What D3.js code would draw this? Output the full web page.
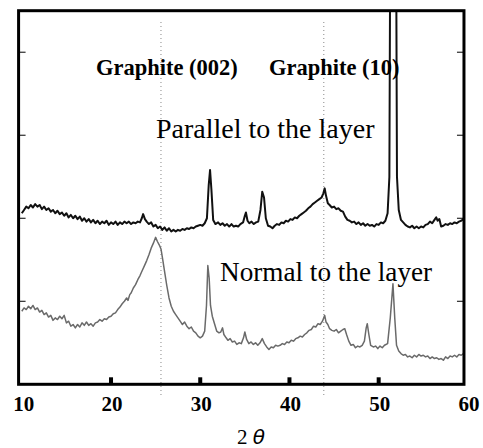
<!DOCTYPE html>
<html><head><meta charset="utf-8">
<script src="https://cdn.jsdelivr.net/npm/d3@7"></script>
<style>html,body{margin:0;padding:0;background:#fff;}svg{display:block;}</style>
</head><body>
<svg id="chart" width="483" height="448"></svg>
<script>
// ---- DATA (2θ in degrees, intensity in arbitrary units) ----
const xTicks = [10, 20, 30, 40, 50, 60];
const yTicks = [100, 200, 300, 400];
const markerAngles = [25.6, 43.85];
const peakLabels = ["Graphite (002)", "Graphite (10)"];
const seriesNames = ["Parallel to the layer", "Normal to the layer"];

const parallel = [
[10.0,206],[10.25,210],[10.5,214],[10.75,212],[11.0,216],[11.25,213],[11.5,217],[11.75,214],[12.0,216],[12.25,211],
[12.5,214],[12.75,210],[13.0,212],[13.25,208],[13.5,210],[13.75,206],[14.0,209],[14.25,205],[14.5,207],[14.75,203],
[15.0,206],[15.25,201],[15.5,204],[15.75,200],[16.0,203],[16.25,199],[16.5,202],[16.75,197],[17.0,200],[17.25,196],
[17.5,199],[17.75,195],[18.0,198],[18.25,194],[18.5,197],[18.75,193],[19.0,196],[19.25,194],[19.5,197],[19.75,192],
[20.0,195],[20.25,193],[20.5,196],[20.75,192],[21.0,195],[21.25,193],[21.5,196],[21.75,194],[22.0,196],[22.25,193],
[22.5,195],[22.75,194],[23.0,196],[23.25,195],[23.45,200],[23.6,205],[23.8,199],[24.0,196],[24.25,193],[24.5,195],
[24.75,190],[25.0,192],[25.25,188],[25.5,190],[25.75,186],[26.0,189],[26.25,185],[26.5,188],[26.75,184],[27.0,186],
[27.25,184],[27.5,186],[27.75,185],[28.0,187],[28.25,186],[28.5,188],[28.75,187],[29.0,189],[29.25,188],[29.5,190],
[29.75,191],[30.0,192],[30.25,191],[30.5,194],[30.75,200],[30.95,240],[31.1,258],[31.25,235],[31.45,198],[31.7,193],
[32.0,195],[32.25,192],[32.5,194],[32.75,191],[33.0,193],[33.25,190],[33.5,193],[33.75,190],[34.0,191],[34.25,190],
[34.5,193],[34.8,195],[35.0,203],[35.12,207],[35.3,197],[35.5,194],[35.75,196],[36.0,193],[36.25,195],[36.5,196],
[36.75,210],[36.95,232],[37.15,225],[37.35,200],[37.6,191],[37.85,190],[38.1,188],[38.35,191],[38.6,193],[38.85,192],
[39.1,195],[39.35,194],[39.6,197],[39.85,196],[40.1,199],[40.35,198],[40.6,201],[40.85,200],[41.1,203],[41.35,205],
[41.6,207],[41.85,209],[42.1,212],[42.35,214],[42.6,217],[42.85,219],[43.1,221],[43.35,223],[43.6,225],[43.8,230],
[43.95,236],[44.1,227],[44.3,218],[44.5,216],[44.75,213],[45.0,214],[45.25,211],[45.5,212],[45.75,209],[46.0,208],
[46.25,202],[46.5,198],[46.75,197],[47.0,195],[47.25,196],[47.5,193],[47.75,195],[48.0,192],[48.25,194],[48.5,191],
[48.75,193],[49.0,191],[49.25,192],[49.5,190],[49.75,193],[50.0,192],[50.25,195],[50.5,194],[50.75,197],[51.0,206],
[51.2,250],[51.35,700],[51.55,1000],[51.75,1000],[51.9,700],[52.05,250],[52.25,210],[52.5,198],[52.75,195],[53.0,192],
[53.25,190],[53.5,189],[53.75,191],[54.0,188],[54.25,190],[54.5,188],[54.75,190],[55.0,189],[55.25,192],[55.5,193],
[55.75,196],[56.0,194],[56.25,198],[56.45,201],[56.6,197],[56.8,199],[57.0,190],[57.25,191],[57.5,193],[57.75,192],
[58.0,194],[58.25,193],[58.5,195],[58.75,194],[59.0,196],[59.25,197],[59.5,199]
];

const normal = [
[10.0,88],[10.25,92],[10.5,90],[10.75,94],[11.0,91],[11.25,95],[11.5,90],[11.75,92],[12.0,87],[12.25,89],
[12.5,84],[12.75,86],[13.0,81],[13.25,83],[13.5,77],[13.75,80],[14.0,78],[14.25,82],[14.5,79],[14.75,83],
[15.0,74],[15.25,76],[15.5,70],[15.75,72],[16.0,68],[16.25,72],[16.5,69],[16.75,74],[17.0,71],[17.25,75],
[17.5,71],[17.75,73],[18.0,70],[18.25,74],[18.5,75],[18.75,78],[19.0,76],[19.25,79],[19.5,78],[19.75,81],
[20.0,82],[20.25,85],[20.5,86],[20.75,90],[21.0,93],[21.25,97],[21.5,100],[21.75,104],[21.9,101],[22.1,108],
[22.25,110],[22.5,116],[22.75,120],[23.0,126],[23.25,131],[23.5,137],[23.75,143],[24.0,149],[24.25,156],[24.5,164],
[24.75,170],[25.0,177],[25.2,172],[25.4,168],[25.6,163],[25.8,150],[26.0,136],[26.25,119],[26.5,104],[26.75,94],
[27.0,88],[27.25,84],[27.5,80],[27.75,76],[28.0,72],[28.25,75],[28.5,70],[28.75,67],[29.0,69],[29.25,64],
[29.5,62],[29.75,58],[30.0,56],[30.25,58],[30.5,64],[30.7,95],[30.85,143],[31.0,128],[31.15,95],[31.35,82],
[31.6,73],[31.85,64],[32.1,62],[32.3,63],[32.5,68],[32.65,60],[32.9,56],[33.1,53],[33.35,55],[33.6,51],
[33.85,52],[34.1,48],[34.35,50],[34.6,49],[34.85,56],[35.0,63],[35.2,54],[35.45,49],[35.7,51],[35.95,48],
[36.2,50],[36.45,47],[36.7,50],[36.95,55],[37.2,49],[37.45,45],[37.7,42],[37.95,45],[38.2,44],[38.45,47],
[38.7,46],[38.95,47],[39.2,49],[39.45,48],[39.7,51],[39.95,50],[40.2,53],[40.45,52],[40.7,55],[40.95,56],
[41.2,58],[41.45,57],[41.7,60],[41.95,62],[42.2,65],[42.45,66],[42.7,70],[42.95,69],[43.2,73],[43.45,72],
[43.7,76],[43.95,83],[44.1,75],[44.3,72],[44.5,67],[44.75,65],[45.0,64],[45.25,66],[45.5,62],[45.75,64],
[46.0,66],[46.2,67],[46.4,60],[46.65,52],[46.9,47],[47.15,48],[47.4,44],[47.65,46],[47.9,45],[48.15,47],
[48.4,52],[48.6,68],[48.72,73],[48.9,60],[49.1,47],[49.4,45],[49.65,46],[49.9,43],[50.15,46],[50.4,44],
[50.65,47],[51.0,49],[51.3,80],[51.6,121],[51.8,80],[52.0,47],[52.25,40],[52.5,37],[52.75,35],[53.0,36],
[53.25,33],[53.5,34],[53.75,32],[54.0,35],[54.25,33],[54.5,36],[54.75,34],[55.0,35],[55.25,33],[55.5,34],
[55.75,31],[56.0,33],[56.25,31],[56.5,32],[56.75,30],[57.0,31],[57.25,29],[57.5,33],[57.75,31],[58.0,34],
[58.25,33],[58.5,35],[58.75,33],[59.0,36],[59.25,35],[59.5,37]
];

// ---- DRAW ----
const serif = "'Liberation Serif', 'Times New Roman', serif";
const svg = d3.select("#chart");
const x = d3.scaleLinear().domain([10, 60]).range([21.8, 467.9]);
const y = d3.scaleLinear().domain([0, 450]).range([384.3, 10.7]);
const fx0 = x(9.64), fx1 = x(59.56), fy0 = y(450), fy1 = y(0);

svg.append("defs").append("clipPath").attr("id","clip")
  .append("rect").attr("x",fx0).attr("y",fy0).attr("width",fx1-fx0).attr("height",fy1-fy0);

// dotted marker lines
svg.selectAll("line.marker").data(markerAngles).enter().append("line")
  .attr("class","marker")
  .attr("x1",d=>x(d)).attr("x2",d=>x(d))
  .attr("y1",22).attr("y2",397)
  .attr("stroke","#888").attr("stroke-width",1).attr("stroke-dasharray","1,3");

const line = d3.line().x(d=>x(d[0])).y(d=>y(d[1]));
const g = svg.append("g").attr("clip-path","url(#clip)");
g.append("path").datum(normal).attr("d",line)
  .attr("fill","none").attr("stroke","#6a6a6a").attr("stroke-width",1.5).attr("stroke-linejoin","round");
g.append("path").datum(parallel).attr("d",line)
  .attr("fill","none").attr("stroke","#111").attr("stroke-width",2).attr("stroke-linejoin","round");

// frame
svg.append("rect").attr("x",fx0).attr("y",fy0).attr("width",fx1-fx0).attr("height",fy1-fy0)
  .attr("fill","none").attr("stroke","#000").attr("stroke-width",3);

// bottom ticks (inward)
svg.selectAll("rect.xt").data(xTicks.filter(d=>d>10 && d<60)).enter().append("rect")
  .attr("class","xt").attr("x",d=>x(d)-2).attr("y",fy1-7).attr("width",4).attr("height",7).attr("fill","#000");
// left / right ticks (inward)
svg.selectAll("line.yl").data(yTicks).enter().append("line")
  .attr("x1",fx0).attr("x2",fx0+7).attr("y1",d=>y(d)).attr("y2",d=>y(d)).attr("stroke","#000").attr("stroke-width",1);
svg.selectAll("line.yr").data(yTicks).enter().append("line")
  .attr("x1",fx1-7).attr("x2",fx1).attr("y1",d=>y(d)).attr("y2",d=>y(d)).attr("stroke","#000").attr("stroke-width",1);

// tick labels
svg.selectAll("text.xl").data(xTicks).enter().append("text")
  .attr("x",d=>x(d)+ (d===10?2:1)).attr("y",411)
  .attr("text-anchor","middle").attr("font-family",serif)
  .attr("font-weight","bold").attr("font-size",21).text(d=>d);

// axis title
const t = svg.append("text").attr("x",251).attr("y",444).attr("text-anchor","middle")
  .attr("font-family",serif).attr("font-size",21);
t.append("tspan").text("2 ");
t.append("tspan").attr("font-family","'DejaVu Sans', sans-serif").attr("font-style","italic").attr("font-size",20).text("θ");

// peak labels
const pl = [[96, peakLabels[0]], [269, peakLabels[1]]];
svg.selectAll("text.pl").data(pl).enter().append("text")
  .attr("x",d=>d[0]).attr("y",75)
  .attr("font-family",serif).attr("font-weight","bold")
  .attr("font-size",22.5).text(d=>d[1]);

// series labels
svg.append("text").attr("x",156).attr("y",138)
  .attr("font-family",serif).attr("font-size",28).text(seriesNames[0]);
svg.append("text").attr("x",220).attr("y",281)
  .attr("font-family",serif).attr("font-size",27.2).text(seriesNames[1]);
</script>
</body></html>
